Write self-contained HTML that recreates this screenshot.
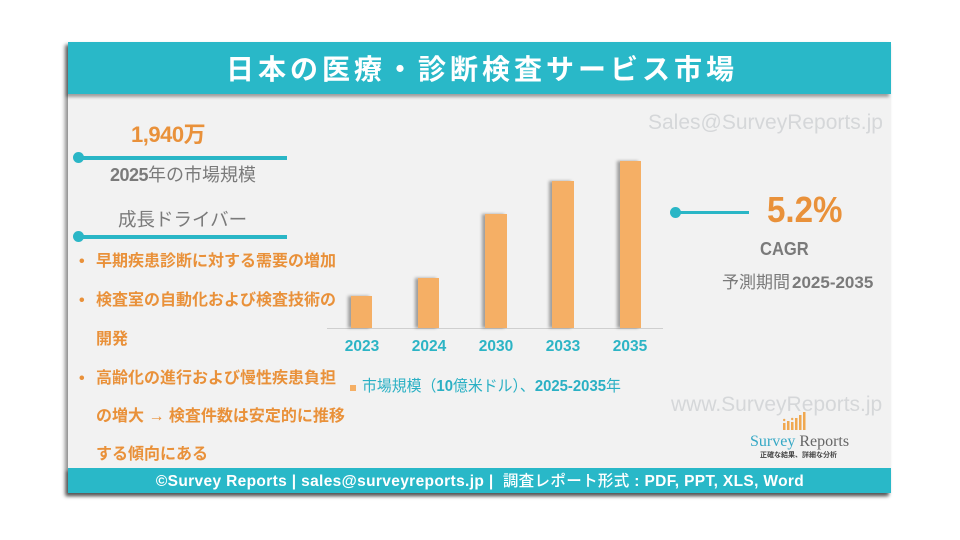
<!DOCTYPE html>
<html lang="ja">
<head>
<meta charset="utf-8">
<style>
html,body{margin:0;padding:0;}
body{width:960px;height:540px;background:#ffffff;position:relative;overflow:hidden;font-family:"Liberation Sans","Noto Sans CJK JP",sans-serif;}
.card{position:absolute;left:68px;top:42px;width:823px;height:451px;background:#f2f2f2;box-shadow:-3px 3px 4px rgba(0,0,0,0.45);}
.hdr{position:absolute;left:68px;top:42px;width:823px;height:52px;background:#29b8c8;box-shadow:-2px 3px 3px rgba(0,0,0,0.35);}
.ftr{position:absolute;left:68px;top:468px;width:823px;height:25px;background:#29b8c8;box-shadow:-2px 3px 3px rgba(0,0,0,0.4);}
.t{position:absolute;white-space:nowrap;line-height:1;}
.title{left:2px;width:960px;text-align:center;top:54px;font-size:28px;letter-spacing:4px;color:#fff;font-weight:700;font-family:"Noto Sans CJK JP","Liberation Sans",sans-serif;}
.ln{position:absolute;height:4px;background:#2ab6c6;}
.dot{position:absolute;width:11px;height:11px;border-radius:50%;background:#2ab6c6;}
.orange{color:#e9913a;}
.gray{color:#7a7a7a;}
.bul{font-size:16px;font-weight:700;color:#e9913a;font-family:"Liberation Sans","Noto Sans CJK JP",sans-serif;}
.bar{position:absolute;background:#f5af65;box-shadow:-3px 0 3px rgba(0,0,0,0.35);}
.yr{position:absolute;width:60px;text-align:center;font-size:15.5px;font-weight:700;color:#2cb4c5;line-height:1;}
.wm{color:#d5d7d9;font-size:21px;}
</style>
</head>
<body>
<div class="card"></div>
<div class="hdr"></div>
<div class="ftr"></div>

<div class="t title">日本の医療・診断検査サービス市場</div>

<!-- watermarks -->
<div class="t wm" style="left:648px;top:112px;">Sales@SurveyReports.jp</div>
<div class="t wm" style="left:671px;top:394px;">www.SurveyReports.jp</div>

<!-- left column -->
<div class="t orange" style="left:131px;top:122px;font-size:22px;font-weight:700;letter-spacing:-0.5px;">1,940<span style="font-family:'Noto Sans CJK JP',sans-serif;">万</span></div>
<div class="ln" style="left:79px;top:156px;width:208px;"></div>
<div class="dot" style="left:73px;top:152px;"></div>
<div class="t gray" style="left:110px;top:166px;font-size:18px;"><b style="letter-spacing:-0.5px;">2025</b>年の市場規模</div>
<div class="t gray" style="left:118px;top:210px;font-size:18.5px;font-family:'Noto Sans CJK JP',sans-serif;font-weight:400;">成長ドライバー</div>
<div class="ln" style="left:79px;top:235px;width:208px;"></div>
<div class="dot" style="left:73px;top:231px;"></div>

<div class="t bul" style="left:79px;top:254px;">•</div>
<div class="t bul" style="left:96px;top:254px;">早期疾患診断に対する需要の増加</div>
<div class="t bul" style="left:79px;top:293px;">•</div>
<div class="t bul" style="left:96px;top:293px;">検査室の自動化および検査技術の</div>
<div class="t bul" style="left:96px;top:332px;">開発</div>
<div class="t bul" style="left:79px;top:371px;">•</div>
<div class="t bul" style="left:96px;top:371px;">高齢化の進行および慢性疾患負担</div>
<div class="t bul" style="left:96px;top:409px;">の増大 <span style="font-weight:400;font-size:16px;">→</span> 検査件数は安定的に推移</div>
<div class="t bul" style="left:96px;top:447px;">する傾向にある</div>

<!-- chart -->
<div style="position:absolute;left:327px;top:328px;width:336px;height:1px;background:#cfcfcf;"></div>
<div class="bar" style="left:351px;top:296px;width:21px;height:32px;"></div>
<div class="bar" style="left:418px;top:278px;width:21px;height:50px;"></div>
<div class="bar" style="left:485px;top:214px;width:22px;height:114px;"></div>
<div class="bar" style="left:552px;top:181px;width:22px;height:147px;"></div>
<div class="bar" style="left:620px;top:161px;width:21px;height:167px;"></div>
<div class="yr" style="left:332px;top:339px;">2023</div>
<div class="yr" style="left:399px;top:339px;">2024</div>
<div class="yr" style="left:466px;top:339px;">2030</div>
<div class="yr" style="left:533px;top:339px;">2033</div>
<div class="yr" style="left:600px;top:339px;">2035</div>

<div style="position:absolute;left:350px;top:385px;width:6px;height:6px;background:#f5af65;"></div>
<div class="t" style="left:362px;top:379px;font-size:15.5px;color:#2ab0c4;transform:scaleX(0.96);transform-origin:left center;">市場規模（<b>10</b>億米ドル）、<b>2025-2035</b>年</div>

<!-- right -->
<div class="ln" style="left:677px;top:211px;width:72px;height:3px;"></div>
<div class="dot" style="left:670px;top:207px;"></div>
<div class="t orange" style="left:767px;top:192px;font-size:36px;font-weight:700;transform:scaleX(0.92);transform-origin:left center;">5.2%</div>
<div class="t gray" style="left:760px;top:240px;font-size:18px;font-weight:700;transform:scaleX(0.92);transform-origin:left center;">CAGR</div>
<div class="t gray" style="left:722px;top:272px;font-size:17px;"><span style="font-family:'Noto Sans CJK JP',sans-serif;">予測期間</span><b style="display:inline-block;margin-left:2px;">2025-2035</b></div>

<!-- logo -->
<svg style="position:absolute;left:782px;top:411px;" width="28" height="20" viewBox="0 0 28 20">
<g fill="#f0a850">
<rect x="1" y="12" width="2.5" height="7"/>
<rect x="5" y="10" width="2.5" height="9"/>
<rect x="9" y="11" width="2.5" height="8"/>
<rect x="13" y="7" width="2.5" height="12"/>
<rect x="17" y="4" width="2.5" height="15"/>
<rect x="21" y="1" width="2.5" height="18"/>
</g>
<circle cx="2.2" cy="9" r="1.2" fill="#f0a850"/>
<circle cx="10.2" cy="8" r="1.2" fill="#f0a850"/>
</svg>
<div class="t" style="left:750px;top:434px;font-size:16px;font-family:'Liberation Serif',serif;"><span style="color:#35a8c5;">Survey</span> <span style="color:#666;">Reports</span></div>
<div class="t" style="left:760px;top:452px;font-size:7px;color:#444;font-weight:700;font-family:'Noto Sans CJK JP',sans-serif;">正確な結果、詳細な分析</div>

<!-- footer -->
<div class="t" style="left:0;width:960px;text-align:center;top:473px;font-size:15.5px;letter-spacing:0.35px;font-weight:700;color:#fff;">©Survey Reports | sales@surveyreports.jp | &nbsp;<span style="font-family:'Noto Sans CJK JP',sans-serif;font-weight:500;">調査レポート形式</span> : PDF, PPT, XLS, Word</div>
</body>
</html>
